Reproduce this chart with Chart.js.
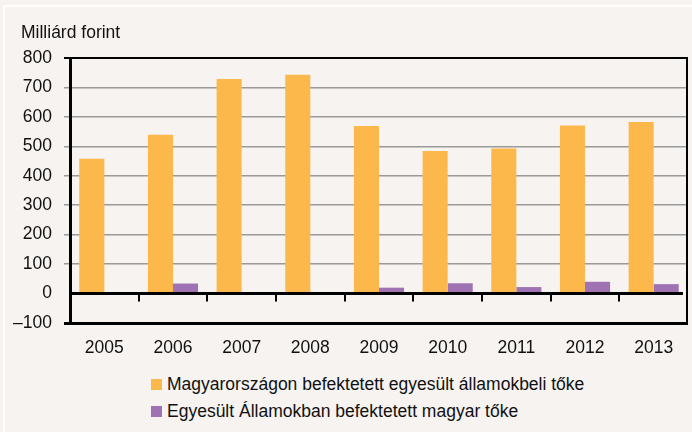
<!DOCTYPE html>
<html>
<head>
<meta charset="utf-8">
<script src="https://cdn.jsdelivr.net/npm/chart.js@4.4.1/dist/chart.umd.min.js"></script>
<style>
    html, body { margin: 0; padding: 0; background: #f6f3f0; }
    body { width: 692px; height: 432px; position: relative; overflow: hidden; font-family: "Liberation Sans", Arial, sans-serif; }
    #frame { position: absolute; left: 3px; top: 5px; width: 700px; height: 440px; border-top: 2px solid #fff; border-left: 2px solid #fff; }
    #wrap { position: absolute; left: 0; top: 0; width: 692px; height: 366px; }
    #legend { position: absolute; left: 151px; top: 372px; font-size: 17.5px; color: #111; }
    .item { height: 27px; line-height: 24px; white-space: nowrap; }
    .box { display: inline-block; width: 11px; height: 11px; margin-right: 5px; vertical-align: 0px; }
</style>
</head>
<body>
<div id="frame"></div>
<div id="wrap"><canvas id="chart"></canvas></div>
<div id="legend"></div>
<script>
const years = ['2005', '2006', '2007', '2008', '2009', '2010', '2011', '2012', '2013'];
const usCapitalInHungary = [458, 539, 729, 743, 569, 484, 493, 571, 583];
const hungarianCapitalInUs = [2, 34, 1, 1, 20, 35, 22, 40, 32];
const seriesNames = ['Magyarországon befektetett egyesült államokbeli tőke', 'Egyesült Államokban befektetett magyar tőke'];
const seriesColors = ['#fdb84c', '#9e72b3'];
const unitLabel = 'Milliárd forint';

const fontFamily = '"Liberation Sans", Arial, sans-serif';

// zero line, tick marks on it and right border of the plot
const framePlugin = {
    id: 'frameLines',
    afterLayout(chart) {
        // unit label sits a bit right of the tick labels
        chart.titleBlock.left += 10;
        chart.titleBlock.right += 10;
    },
    afterDatasetsDraw(chart) {
        const ctx = chart.ctx;
        const area = chart.chartArea;
        const x = chart.scales.x;
        const y = chart.scales.y;
        const zero = y.getPixelForValue(0);
        const half = (x.getPixelForValue(1) - x.getPixelForValue(0)) / 2;
        ctx.save();
        ctx.strokeStyle = '#000';
        ctx.lineWidth = 3;
        ctx.beginPath();
        ctx.moveTo(area.left, zero);
        ctx.lineTo(x.getPixelForValue(years.length - 1) + half - 5, zero);
        ctx.stroke();
        ctx.lineWidth = 2;
        ctx.beginPath();
        for (let i = 1; i < years.length; i++) {
            const px = Math.round(x.getPixelForValue(i) - half);
            ctx.moveTo(px, zero);
            ctx.lineTo(px, zero + 8);
        }
        ctx.moveTo(area.right - 1, area.top);
        ctx.lineTo(area.right - 1, area.bottom);
        ctx.stroke();
        ctx.restore();
    }
};

const chart = new Chart(document.getElementById('chart').getContext('2d'), {
    type: 'bar',
    data: {
        labels: years,
        datasets: [{
            label: seriesNames[0],
            data: usCapitalInHungary,
            backgroundColor: seriesColors[0]
        }, {
            label: seriesNames[1],
            data: hungarianCapitalInUs,
            backgroundColor: seriesColors[1]
        }]
    },
    options: {
        responsive: true,
        maintainAspectRatio: false,
        animation: false,
        datasets: {
            bar: { categoryPercentage: 0.73, barPercentage: 1 }
        },
        layout: {
            padding: { left: 11, right: 4, top: 10, bottom: 0 }
        },
        plugins: {
            legend: { display: false },
            tooltip: { enabled: false },
            title: {
                display: true,
                text: unitLabel,
                align: 'start',
                color: '#111',
                font: { family: fontFamily, size: 17.5, weight: 'normal' },
                padding: { top: 13, bottom: 14 }
            }
        },
        scales: {
            x: {
                grid: { display: false },
                border: { display: false },
                ticks: {
                    color: '#111',
                    padding: 7,
                    font: { family: fontFamily, size: 17.5 }
                }
            },
            y: {
                min: -100,
                max: 800,
                afterFit: (scale) => { scale.width = 59; },
                border: { color: '#000', width: 3 },
                grid: {
                    tickLength: 6,
                    color: (c) => {
                        const v = c.tick ? c.tick.value : null;
                        if (v === 0) return 'rgba(0,0,0,0)';
                        if (v === -100 || v === 800) return '#000';
                        return '#9a9a9a';
                    },
                    lineWidth: (c) => {
                        const v = c.tick ? c.tick.value : null;
                        if (v === -100) return 3;
                        if (v === 800) return 2;
                        return 1.5;
                    }
                },
                ticks: {
                    stepSize: 100,
                    color: '#111',
                    padding: 12,
                    font: { family: fontFamily, size: 17.5 },
                    callback: (v) => v < 0 ? '\u2013' + Math.abs(v) : v
                }
            }
        }
    },
    plugins: [framePlugin]
});

// legend as two left-aligned rows
const legend = document.getElementById('legend');
chart.data.datasets.forEach(function (ds) {
    const row = document.createElement('div');
    row.className = 'item';
    const box = document.createElement('span');
    box.className = 'box';
    box.style.background = ds.backgroundColor;
    row.appendChild(box);
    row.appendChild(document.createTextNode(ds.label));
    legend.appendChild(row);
});
</script>
</body>
</html>
